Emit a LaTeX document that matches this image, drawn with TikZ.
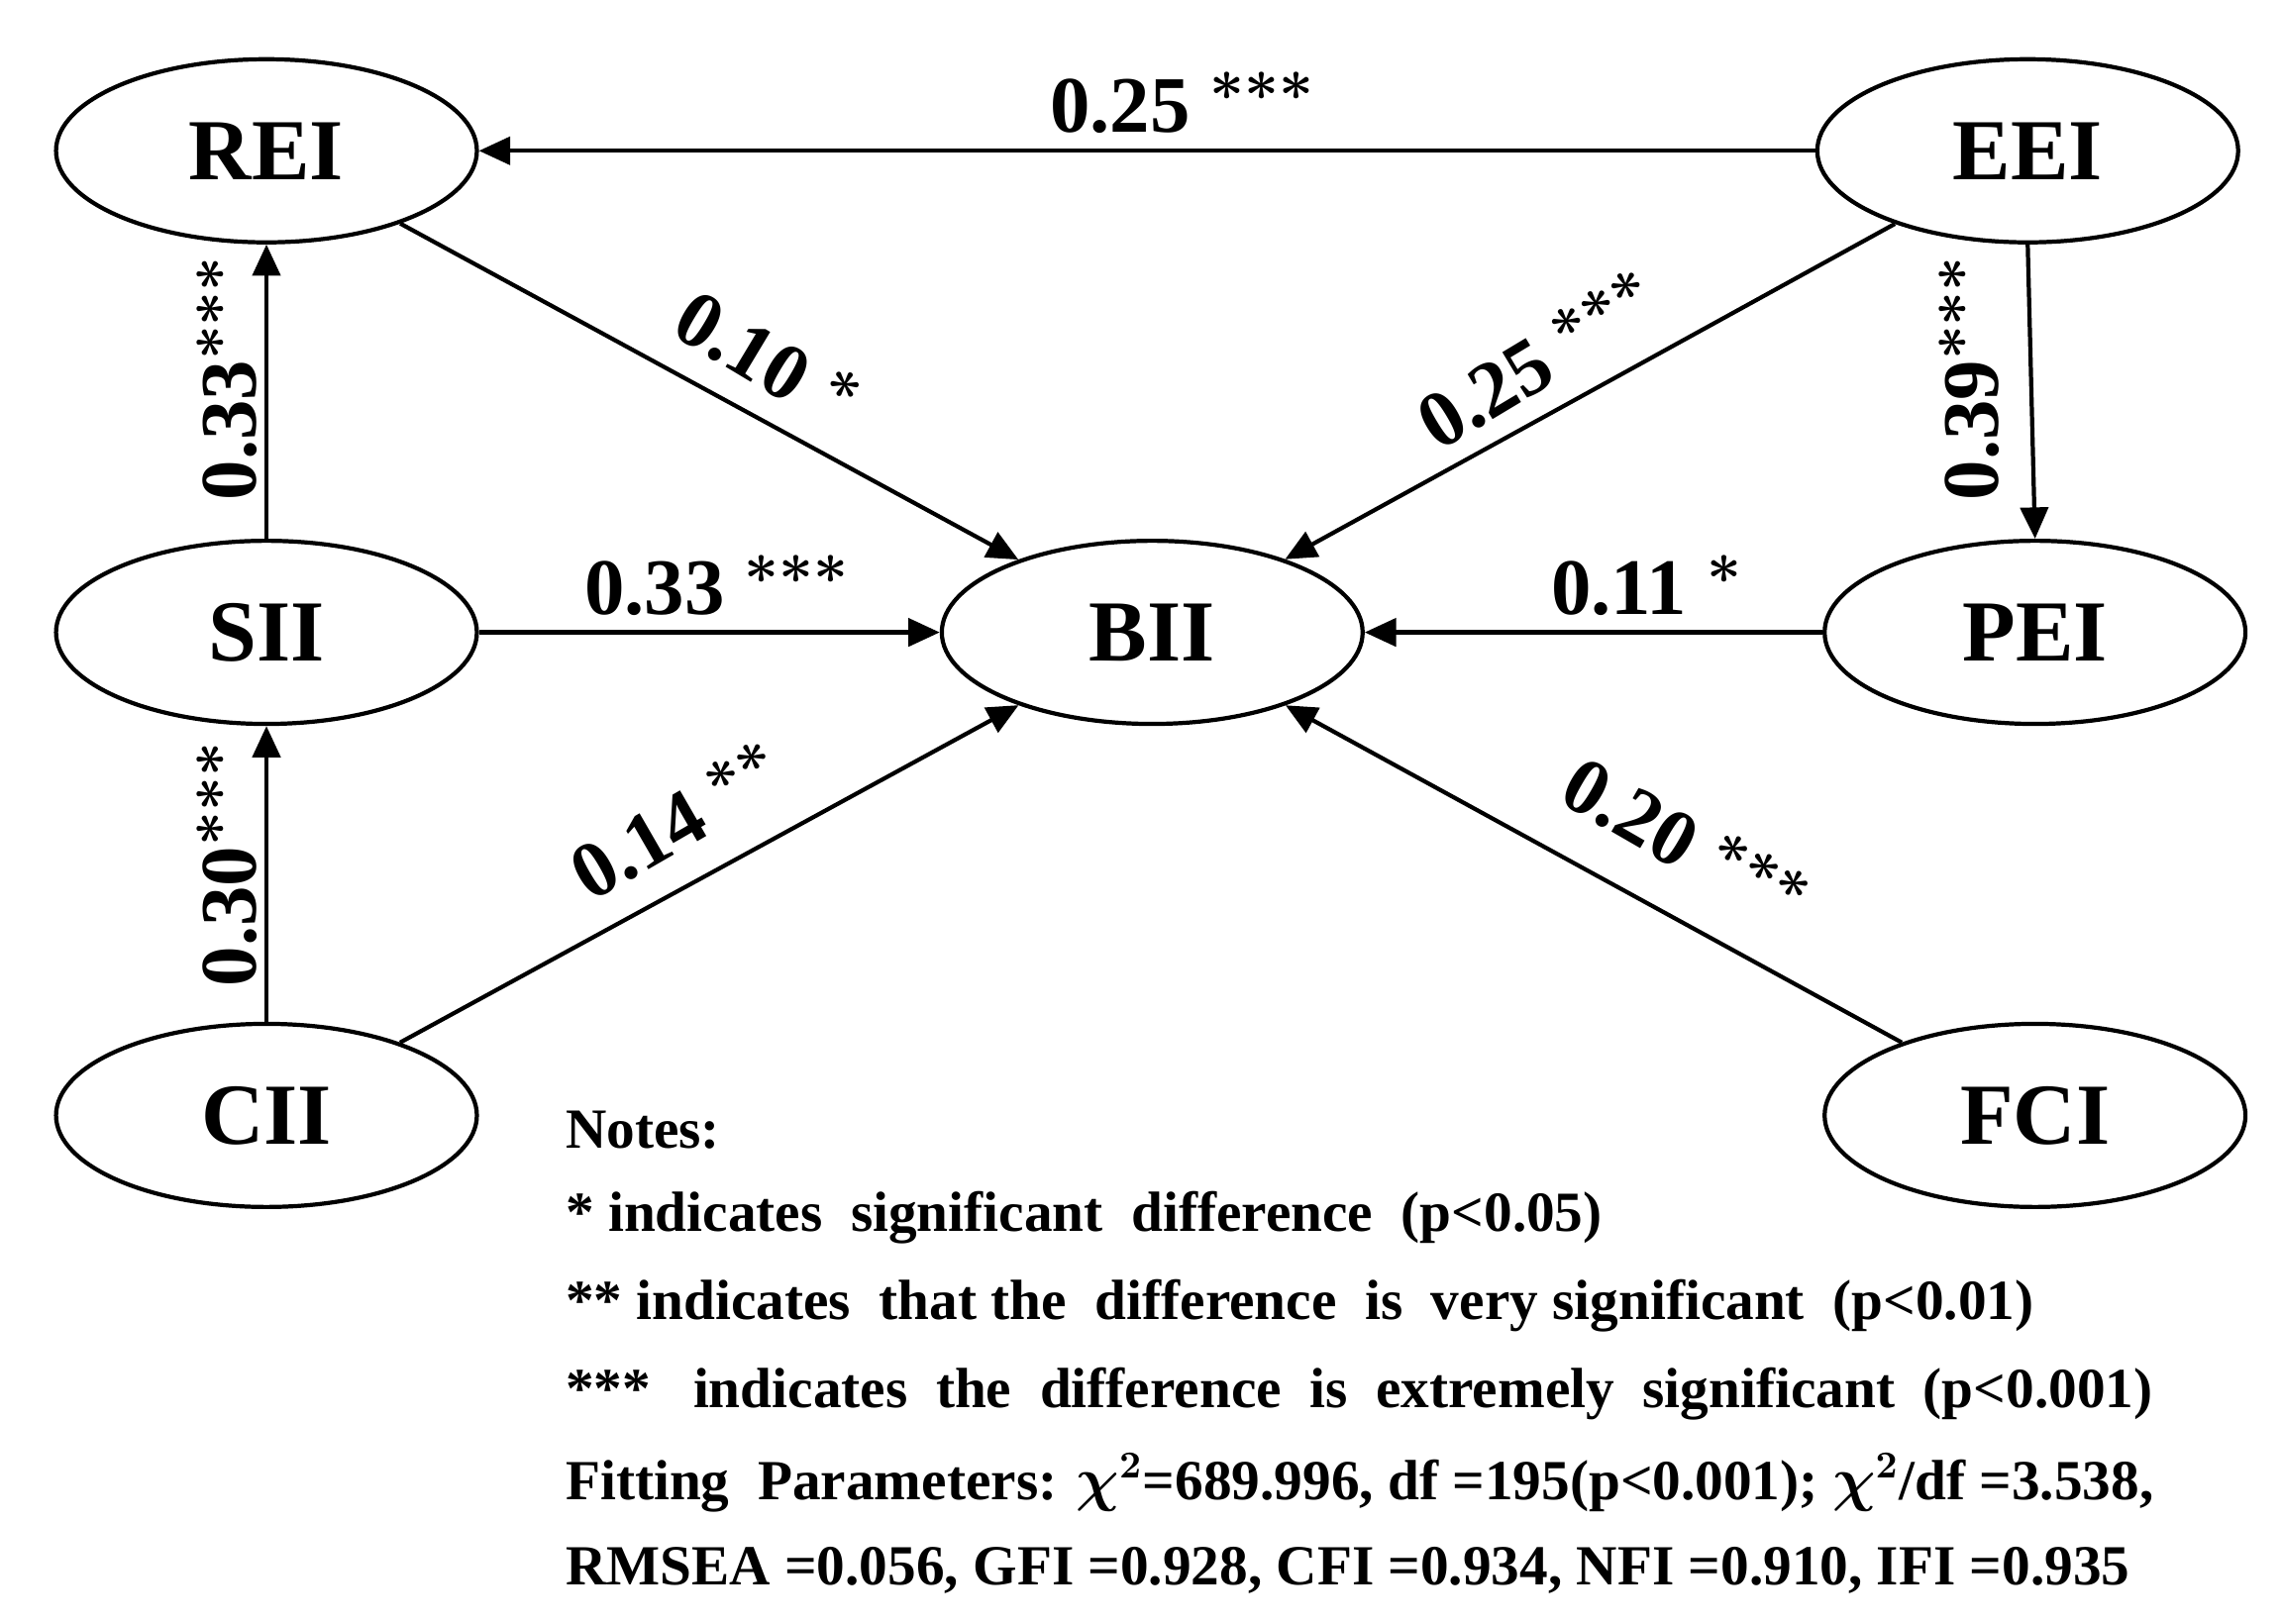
\documentclass[tikz,border=0pt]{standalone}
\usepackage{fontspec}
\setmainfont{Liberation Serif}
\usetikzlibrary{shapes.geometric,arrows.meta}
\begin{document}
\begin{tikzpicture}[x=0.01478cm,y=-0.01478cm,
  lat/.style={draw,ellipse,line width=1.2pt,minimum width=4.25cm,minimum height=1.85cm,inner sep=0pt,font=\fontsize{25}{28}\selectfont\bfseries},
  arr/.style={-{Triangle[length=9pt,width=8pt]},line width=1.2pt},
  coef/.style={font=\fontsize{23}{26}\selectfont\bfseries\boldmath},
  note/.style={anchor=west,font=\fontsize{16.3}{19}\selectfont\bfseries\boldmath}]
\useasboundingbox (0,0) rectangle (1558,1109);
\node[lat] (REI) at (182,103) {REI};
\node[lat] (EEI) at (1385,103) {EEI};
\node[lat] (SII) at (182,432) {SII};
\node[lat] (BII) at (787,432) {BII};
\node[lat] (PEI) at (1390,432) {PEI};
\node[lat] (CII) at (182,762) {CII};
\node[lat] (FCI) at (1390,762) {FCI};
\draw[arr] (EEI) -- (REI);
\draw[arr] (REI) -- (BII);
\draw[arr] (SII) -- (REI);
\draw[arr] (SII) -- (BII);
\draw[arr] (CII) -- (SII);
\draw[arr] (CII) -- (BII);
\draw[arr] (EEI) -- (BII);
\draw[arr] (EEI.south) -- (PEI.north);
\draw[arr] (PEI) -- (BII);
\draw[arr] (FCI) -- (BII);
\node[coef] (l1) at (808,70) {0.25 $^{***}$};
\node[coef,rotate=-31] (l2) at (525,245) {0.10 $^{*}$};
\node[coef,rotate=31] (l3) at (1050,245) {0.25 $^{***}$};
\node[coef,rotate=90] (l4) at (155,258) {0.33$^{***}$};
\node[coef,rotate=90] (l5) at (1345,258) {0.39$^{***}$};
\node[coef] (l6) at (490,400) {0.33 $^{***}$};
\node[coef] (l7) at (1125,400) {0.11 $^{*}$};
\node[coef,rotate=30] (l8) at (462,560) {0.14 $^{**}$};
\node[coef,rotate=-30] (l9) at (1152,575) {0.20 $^{***}$};
\node[coef,rotate=90] (l10) at (155,590) {0.30$^{***}$};
\node[note] (n1) at (378,772) {Notes:};
\node[note] (n2) at (378,832) {* indicates\ \ significant\ \ difference\ \ (p<0.05)};
\node[note] (n3) at (378,892) {** indicates\ \ that the\ \ difference\ \ is\ \ very significant\ \ (p<0.01)};
\node[note] (n4) at (378,952) {***\ \ \ indicates\ \ the\ \ difference\ \ is\ \ extremely\ \ significant\ \ (p<0.001)};
\node[note] (n5) at (378,1013) {Fitting\ \ Parameters: $\chi^2$=689.996, df =195(p<0.001); $\chi^2$/df =3.538,};
\node[note] (n6) at (378,1073) {RMSEA =0.056, GFI =0.928, CFI =0.934, NFI =0.910, IFI =0.935};
\end{tikzpicture}
\end{document}
